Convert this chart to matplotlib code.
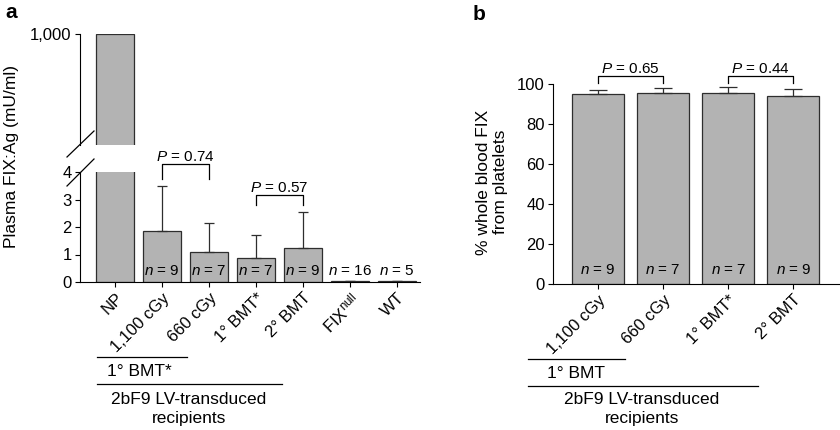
import matplotlib
matplotlib.use('Agg')
import matplotlib.pyplot as plt
from matplotlib.lines import Line2D
import numpy as np

plt.rcParams['font.family'] = ['Liberation Sans', 'DejaVu Sans']
plt.rcParams['font.size'] = 12
plt.rcParams['mathtext.fontset'] = 'custom'
plt.rcParams['mathtext.rm'] = 'Liberation Sans'
plt.rcParams['mathtext.it'] = 'Liberation Sans:italic'

# panel a data
a_labels = ['NP', '1,100 cGy', '660 cGy', '1° BMT*', '2° BMT',
            'FIX$^{\\mathregular{null}}$', 'WT']
a_means = [1000, 1.85, 1.09, 0.88, 1.23, 0.03, 0.03]
a_err = [0, 1.65, 1.06, 0.82, 1.32, 0, 0]
a_n = [None, 9, 7, 7, 9, 16, 5]
a_pvals = [(1, 2, 4.3, 3.75, 'P = 0.74'), (3, 4, 3.16, 2.8, 'P = 0.57')]

# panel b data
b_labels = ['1,100 cGy', '660 cGy', '1° BMT*', '2° BMT']
b_means = [94.8, 95.3, 95.4, 93.8]
b_err = [2.0, 2.9, 2.9, 3.7]
b_n = [9, 7, 7, 9]
b_pvals = [(0, 1, 104, 100.3, 'P = 0.65'), (2, 3, 104, 100.3, 'P = 0.44')]

W, H = 840, 430
BAR = '#b3b3b3'
EDGE = '#2e2e2e'
TICK_FS = 12
LAB_FS = 12.5
ANN_FS = 11

fig = plt.figure(figsize=(8.4, 4.3), dpi=100)


def box(x0, y0, x1, y1):
    # pixel box (top-left origin) -> figure fraction rect
    return [x0 / W, 1 - y1 / H, (x1 - x0) / W, (y1 - y0) / H]


def fline(x0, y0, x1, y1):
    fig.add_artist(Line2D([x0 / W, x1 / W], [1 - y0 / H, 1 - y1 / H],
                          transform=fig.transFigure, color='black', lw=0.9))


def ftext(x, y, s, **kw):
    fig.text(x / W, 1 - y / H, s, ha='center', va='center', **kw)


def style(ax):
    for s in ['top', 'right']:
        ax.spines[s].set_visible(False)
    ax.tick_params(direction='out', length=3.5, width=0.8, labelsize=TICK_FS,
                   pad=2.5)


def brackets(ax, pvals):
    for i, j, top, leg, txt in pvals:
        ax.plot([i, i, j, j], [leg, top, top, leg], color='black', lw=0.9,
                clip_on=False)
        ax.text((i + j) / 2, top, '$\\mathit{P}$' + txt[1:], ha='center',
                va='bottom', fontsize=ANN_FS, clip_on=False)


# ---- panel a ----
xa = np.arange(len(a_labels))
ax_lo = fig.add_axes(box(80, 172, 420, 282))
ax_hi = fig.add_axes(box(80, 34, 420, 145))
for ax in (ax_lo, ax_hi):
    ax.bar(xa, a_means, width=0.81, color=BAR, edgecolor=EDGE, linewidth=0.9)
    ax.set_xlim(-0.745, 6.49)
    style(ax)

ax_hi.set_ylim(500, 1000)
ax_hi.set_yticks([1000])
ax_hi.set_yticklabels(['1,000'])
ax_hi.spines['bottom'].set_visible(False)
ax_hi.set_xticks([])

ax_lo.set_ylim(0, 4)
ax_lo.set_yticks([0, 1, 2, 3, 4])
ax_lo.errorbar(xa, a_means, yerr=[np.zeros(len(a_err)), a_err], fmt='none',
               ecolor=EDGE, elinewidth=0.9, capsize=3.3, capthick=0.9)
ax_lo.set_xticks(xa)
ax_lo.set_xticklabels(a_labels, rotation=45, ha='right',
                      rotation_mode='anchor')
for x, n in zip(xa, a_n):
    if n is not None:
        ax_lo.text(x, 0.15, '$\\mathit{n}$ = %d' % n, ha='center',
                   va='bottom', fontsize=ANN_FS)
brackets(ax_lo, a_pvals)

# break marks
fline(67, 157, 94, 131)
fline(67, 186, 94, 159)

fig.text(12 / W, 1 - 156 / H, 'Plasma FIX:Ag (mU/ml)', rotation=90,
         ha='center', va='center', fontsize=LAB_FS)
fig.text(5 / W, 1 - 13 / H, 'a', fontsize=15, fontweight='bold',
         ha='left', va='center')

fline(97, 357, 187, 357)
ftext(139, 372, '1° BMT*', fontsize=LAB_FS)
fline(97, 384, 282, 384)
ftext(189, 399, '2bF9 LV-transduced', fontsize=LAB_FS)
ftext(189, 418, 'recipients', fontsize=LAB_FS)

# ---- panel b ----
xb = np.arange(len(b_labels))
ax_b = fig.add_axes(box(553, 84, 839, 284))
ax_b.bar(xb, b_means, width=0.8, color=BAR, edgecolor=EDGE, linewidth=0.9)
ax_b.errorbar(xb, b_means, yerr=[np.zeros(len(b_err)), b_err], fmt='none',
              ecolor=EDGE, elinewidth=0.9, capsize=6.5, capthick=0.9)
ax_b.set_xlim(-0.69, 3.7)
ax_b.set_ylim(0, 100)
ax_b.set_yticks([0, 20, 40, 60, 80, 100])
style(ax_b)
ax_b.set_xticks(xb)
ax_b.set_xticklabels(b_labels, rotation=45, ha='right',
                     rotation_mode='anchor')
for x, n in zip(xb, b_n):
    ax_b.text(x, 3.5, '$\\mathit{n}$ = %d' % n, ha='center', va='bottom',
              fontsize=ANN_FS)
brackets(ax_b, b_pvals)

fig.text(492 / W, 1 - 182 / H, '% whole blood FIX\nfrom platelets',
         rotation=90, ha='center', va='center', fontsize=LAB_FS,
         linespacing=1.15)
fig.text(473 / W, 1 - 15 / H, 'b', fontsize=15, fontweight='bold',
         ha='left', va='center')

fline(528, 359, 625, 359)
ftext(576, 373, '1° BMT', fontsize=LAB_FS)
fline(528, 386, 758, 386)
ftext(642, 400, '2bF9 LV-transduced', fontsize=LAB_FS)
ftext(642, 419, 'recipients', fontsize=LAB_FS)

fig.savefig('out.png', dpi=100)
